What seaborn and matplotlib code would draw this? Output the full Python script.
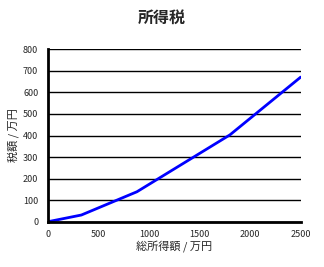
import matplotlib
matplotlib.use("Agg")
import matplotlib.pyplot as plt
import seaborn as sns
import pandas as pd

income = [0, 330, 880, 1800, 2500]
tax = [0, 31, 139, 403, 671]
x_ticks = [0, 500, 1000, 1500, 2000, 2500]
y_ticks = [0, 100, 200, 300, 400, 500, 600, 700, 800]

sns.set_style("white")
plt.rcParams['font.family'] = ['Noto Sans CJK JP', 'DejaVu Sans']

df = pd.DataFrame({"income": income, "tax": tax})

fig = plt.figure(figsize=(3.24, 2.67), dpi=100)
ax = fig.add_axes([48/324, 1-221.7/267, (300.7-48)/324, (221.7-49.3)/267])
sns.lineplot(data=df, x="income", y="tax", ax=ax, color="#0000FF", linewidth=2)

ax.set_xlim(0, 2500)
ax.set_ylim(0, 800)
ax.set_xticks(x_ticks)
ax.set_yticks(y_ticks)
ax.set_xticklabels([str(v) for v in x_ticks], fontsize=6.5)
ax.set_yticklabels([str(v) for v in y_ticks], fontsize=6.5)
ax.tick_params(axis='x', direction='in', length=3, width=1.5, pad=6, color='black')
ax.tick_params(axis='y', direction='in', length=0, pad=7)
ax.yaxis.grid(True, color='black', linewidth=1)
ax.xaxis.grid(False)
for s in ['top', 'right']:
    ax.spines[s].set_visible(False)
for s in ['left', 'bottom']:
    ax.spines[s].set_color('black')
    ax.spines[s].set_linewidth(2)
ax.set_xlabel("総所得額 / 万円", fontsize=8, labelpad=1)
ax.set_ylabel("税額 / 万円", fontsize=8, labelpad=3)
fig.text(162/324, 1-18/267, "所得税", ha='center', va='center', fontsize=11.5, fontweight='bold')

fig.savefig("out.png", dpi=100, facecolor='white')
